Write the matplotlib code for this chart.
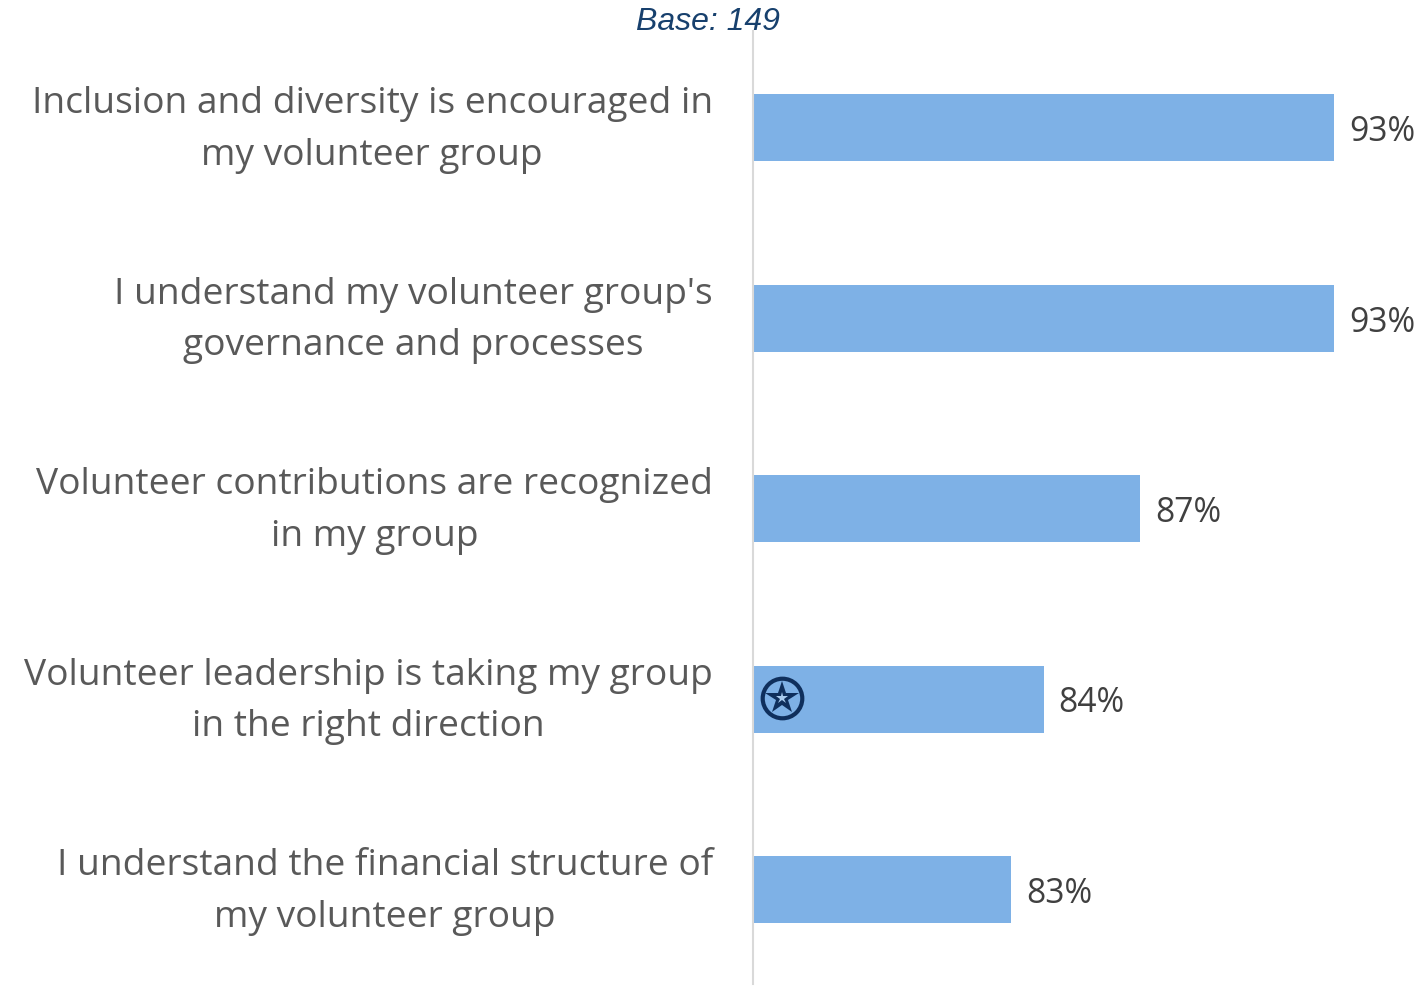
import matplotlib
matplotlib.use("Agg")
import matplotlib.pyplot as plt

labels = [
    "Inclusion and diversity is encouraged in\nmy volunteer group",
    "I understand my volunteer group's\ngovernance and processes",
    "Volunteer contributions are recognized\nin my group",
    "Volunteer leadership is taking my group\nin the right direction",
    "I understand the financial structure of\nmy volunteer group",
]
values = [93, 93, 87, 84, 83]
positions = [0, 1, 2, 3, 4]
starred = 3

W, H = 1421, 987
left = 752.8
per_pct = 32.3  # pixels per percentage point
spacing = 190.5  # pixels between bars
first = 128.5  # pixel row of first bar

fig = plt.figure(figsize=(W / 100, H / 100), dpi=100)
ax = fig.add_axes([left / W, 2 / H, (W - left) / W, 985 / H])
ax.set_xlim(75, 75 + (W - left) / per_pct)
ax.set_ylim((985 - first) / spacing, -first / spacing)
ax.patch.set_alpha(0)

ax.barh(positions, values, height=67 / spacing, color="#7EB1E6", zorder=2)

for pos, val in zip(positions, values):
    ax.annotate(f"{val}%", (val, pos), xytext=(15, -3.5), textcoords="offset pixels",
                ha="left", va="center", fontsize=24.2, family="Open Sans", color="#404040")

for pos, lab in zip(positions, labels):
    ax.annotate(lab, (75, pos), xytext=(-40, -1.5), textcoords="offset pixels",
                ha="right", va="center", multialignment="center", fontsize=26.7,
                family="Open Sans", color="#595959", linespacing=1.59)

for s in ["top", "right", "bottom"]:
    ax.spines[s].set_visible(False)
ax.spines["left"].set_color("#D9D9D9")
ax.spines["left"].set_linewidth(1.5)
ax.spines["left"].set_bounds((32 - first) / spacing, (985 - first) / spacing)
ax.set_xticks([])
ax.set_yticks([])

# star badge on the bar
badge_x = 75 + 29.5 / per_pct
badge_y = starred - 1 / spacing
ax.plot([badge_x], [badge_y], marker="o", ms=28.5, mfc="none", mec="#0F2F5C", mew=3, zorder=3)
ax.plot([badge_x], [badge_y], marker="*", ms=25, mfc="#0F2F5C", mec="#0F2F5C", mew=0, zorder=3)
ax.plot([badge_x], [badge_y], marker="*", ms=9, mfc="#A9CBEE", mec="#A9CBEE", mew=0, zorder=4)

fig.text(708 / W, 1 - 22 / H, "Base: 149", ha="center", va="center", fontsize=23,
         style="italic", family="Liberation Sans", color="#17406D")

fig.savefig("out.png", dpi=100)
